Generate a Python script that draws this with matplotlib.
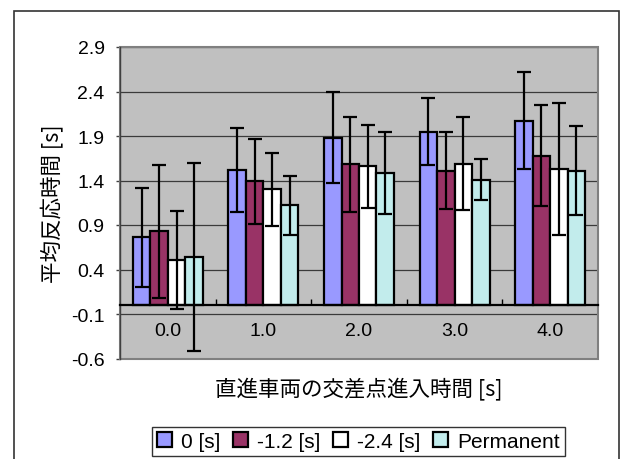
import matplotlib
matplotlib.use('Agg')
import matplotlib.pyplot as plt
import numpy as np
from matplotlib.patches import Rectangle, Patch

# ---- data ----
categories = ['0.0', '1.0', '2.0', '3.0', '4.0']
series_names = ['0 [s]', '-1.2 [s]', '-2.4 [s]', 'Permanent']
mean_0 = [0.76, 1.52, 1.88, 1.95, 2.07]
err_0 = [0.56, 0.475, 0.51, 0.375, 0.545]
mean_m12 = [0.83, 1.39, 1.58, 1.51, 1.68]
err_m12 = [0.745, 0.48, 0.535, 0.435, 0.565]
mean_m24 = [0.51, 1.30, 1.56, 1.59, 1.53]
err_m24 = [0.55, 0.41, 0.465, 0.525, 0.74]
mean_perm = [0.54, 1.12, 1.48, 1.41, 1.51]
err_perm = [1.055, 0.33, 0.46, 0.23, 0.50]
ytick_values = [-0.6, -0.1, 0.4, 0.9, 1.4, 1.9, 2.4, 2.9]
ytick_labels = ['-0.6', '-0.1', '0.4', '0.9', '1.4', '1.9', '2.4', '2.9']

means = [mean_0, mean_m12, mean_m24, mean_perm]
errs = [err_0, err_m12, err_m24, err_perm]
colors = ['#9999FF', '#993366', '#FFFFFF', '#C2ECEC']

LAT = 'Liberation Sans'
JP = ['Noto Sans CJK JP', 'DejaVu Sans']

fig = plt.figure(figsize=(6.21, 4.60), dpi=100)
ax = fig.add_axes([120/621, 1 - 359.5/460, 478/621, 311.5/460])
ax.set_facecolor('#C0C0C0')

x = np.arange(len(categories))
w = 0.183
for i, (m, e, c) in enumerate(zip(means, errs, colors)):
    xi = x + (i - 1.5) * w
    ax.bar(xi, m, width=w, color=c, edgecolor='black', linewidth=1.6, zorder=3)
    ax.errorbar(xi, m, yerr=e, fmt='none', ecolor='black', elinewidth=1.6,
                capsize=5.3, capthick=1.6, zorder=4)

ax.set_xlim(-0.5, len(categories) - 0.5)
ax.set_ylim(-0.6, 2.9)
ax.set_yticks(ytick_values)
ax.set_yticklabels(ytick_labels, fontfamily=LAT, fontsize=14)
ax.set_axisbelow(True)
ax.yaxis.grid(True, color='#3A3A3A', linewidth=0.9, zorder=1)

ax.spines['bottom'].set_position(('data', 0))
ax.spines['bottom'].set_color('black')
ax.spines['bottom'].set_linewidth(1.6)
ax.spines['bottom'].set_zorder(5)
ax.spines['left'].set_color('#404040')
ax.spines['left'].set_linewidth(1.0)
for s in ['top', 'right']:
    ax.spines[s].set_visible(False)
ax.add_patch(Rectangle((0, 0), 1, 1, transform=ax.transAxes, fill=False,
                       edgecolor='#808080', linewidth=1.5, zorder=2, clip_on=False))

ax.set_xticks(x)
ax.set_xticklabels(categories, fontfamily=LAT, fontsize=14)
ax.set_xticks([0.5, 1.5, 2.5, 3.5], minor=True)
ax.tick_params(axis='x', which='major', length=0, pad=12)
ax.tick_params(axis='x', which='minor', direction='in', length=4, width=1)
ax.tick_params(axis='y', which='major', direction='out', length=3, width=1,
               color='#404040', pad=8)

ax.set_ylabel('平均反応時間 [s]', fontfamily=JP, fontsize=15.5)
ax.yaxis.set_label_coords(-0.1195, 0.5)
ax.set_xlabel('直進車両の交差点進入時間 [s]', fontfamily=JP, fontsize=15.5)
ax.xaxis.set_label_coords(0.5, -0.059)

handles = [Patch(facecolor=c, edgecolor='black', linewidth=1.6) for c in colors]
leg = fig.legend(handles, series_names, loc='center', ncol=4,
                 bbox_to_anchor=(358.5/621, 1 - 442.5/460),
                 bbox_transform=fig.transFigure,
                 prop={'family': LAT, 'size': 15},
                 frameon=True, fancybox=False, edgecolor='black',
                 handlelength=0.7, handleheight=0.7, handletextpad=0.45,
                 columnspacing=0.6, borderpad=0.25, borderaxespad=0)
leg.get_frame().set_linewidth(1.0)

fig.patches.append(Rectangle((14/621, -0.05), (618.7 - 14)/621, 0.05 + 1 - 12/460,
                             transform=fig.transFigure, fill=False,
                             edgecolor='#333333', linewidth=1.2))

fig.savefig('out.png', dpi=100)
